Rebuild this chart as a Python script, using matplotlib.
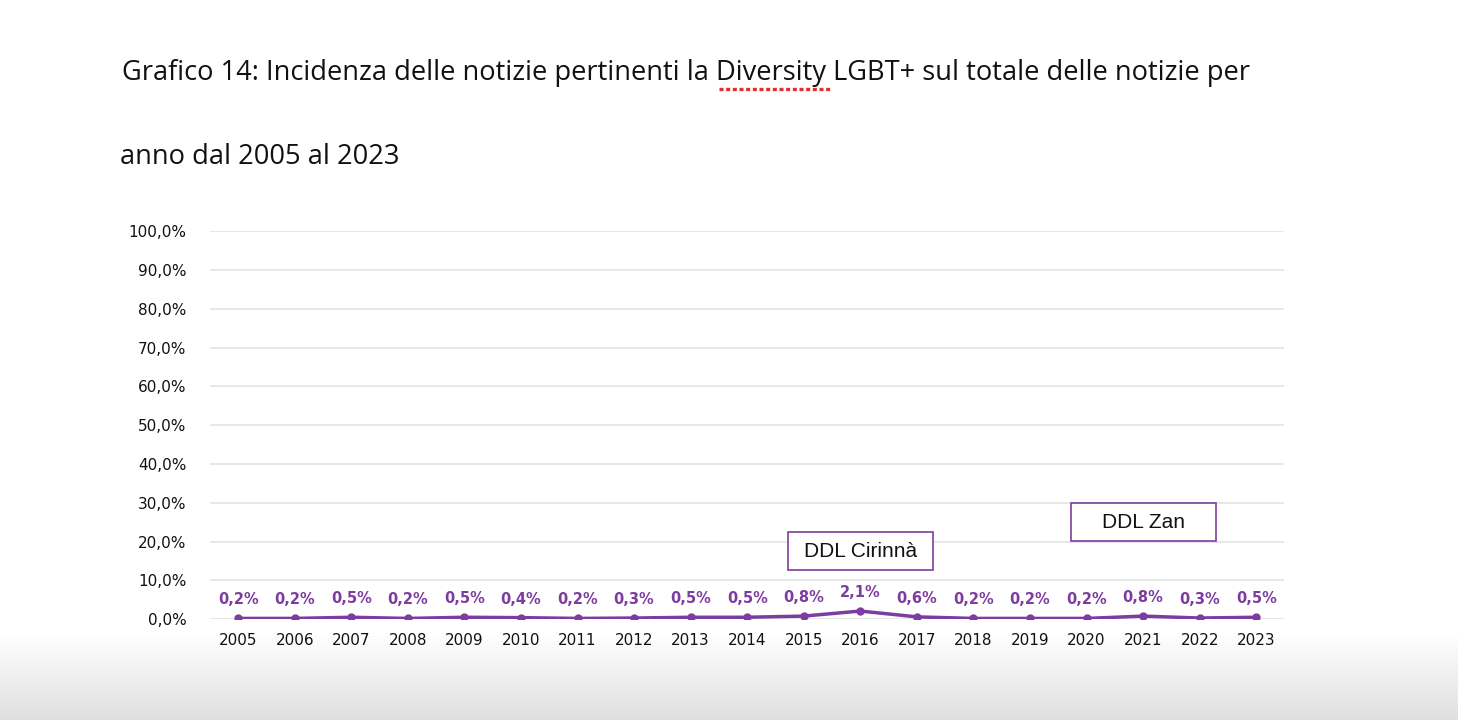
import numpy as np
import matplotlib.pyplot as plt
from matplotlib.patches import Rectangle
from matplotlib.lines import Line2D

years = [str(y) for y in range(2005, 2024)]
incidenza = [0.2, 0.2, 0.5, 0.2, 0.5, 0.4, 0.2, 0.3, 0.5, 0.5,
             0.8, 2.1, 0.6, 0.2, 0.2, 0.2, 0.8, 0.3, 0.5]
y_ticks = list(range(0, 101, 10))
eventi = ["DDL Cirinnà", "DDL Zan"]
eventi_anno = ["2016", "2021"]
eventi_y = [17.5, 25.0]

viola = "#7d3ca0"
titolo_font = dict(fontsize=19.6, family="Open Sans", color="#111111", va="center")

fig = plt.figure(figsize=(14.58, 7.2), dpi=100)

# soft grey shadow at the bottom of the page screenshot
bg = fig.add_axes([0, 0, 1, 0.12], zorder=-5)
shade = np.linspace(1.0, 0.905, 100) ** 1.3
img = np.dstack([shade, shade, shade]).reshape(-1, 1, 3)
bg.imshow(img, aspect="auto", extent=[0, 1, 0, 1], origin="upper")
bg.axis("off")

pre = "Grafico 14: Incidenza delle notizie pertinenti la "
fig.text(0.084, 0.898, pre + "Diversity LGBT+ sul totale delle notizie per", **titolo_font)
fig.text(0.082, 0.782, "anno dal 2005 al 2023", **titolo_font)

# red spell-check underline below "Diversity"
r = fig.canvas.get_renderer()
tmp = fig.text(0.084, 0.898, pre, **titolo_font)
w_pre = tmp.get_window_extent(r).width
tmp.set_text(pre + "Diversity")
w_div = tmp.get_window_extent(r).width
tmp.remove()
x0 = 0.084 + (w_pre + 3) / fig.bbox.width
x1 = 0.084 + (w_div + 4) / fig.bbox.width
fig.add_artist(Line2D([x0, x1], [0.877, 0.877], transform=fig.transFigure,
                      color="#e03030", lw=2.4, ls=(0, (1.2, 0.8))))

ax = fig.add_axes([0.144, 0.140, 0.737, 0.539])
x = np.arange(len(years))
ax.plot(x, incidenza, color=viola, lw=2.5, marker="o", ms=5, zorder=3)

for xi, v in zip(x, incidenza):
    ax.annotate(f"{v:.1f}%".replace(".", ","), (xi, v), xytext=(0, 8),
                textcoords="offset points", ha="center", va="bottom",
                color=viola, fontsize=10.5, fontweight="bold")

for nome, anno, yv in zip(eventi, eventi_anno, eventi_y):
    xc = years.index(anno)
    ax.add_patch(Rectangle((xc - 1.28, yv - 4.9), 2.56, 9.8, facecolor="white",
                           edgecolor=viola, lw=1.2, zorder=4))
    ax.text(xc, yv, nome, ha="center", va="center", fontsize=15,
            family="Liberation Sans", color="#111111", zorder=5)

ax.set_xlim(-0.5, len(years) - 0.5)
ax.set_ylim(0, 100)
ax.set_xticks(x)
ax.set_xticklabels(years)
ax.set_yticks(y_ticks)
ax.set_yticklabels([f"{t:.1f}%".replace(".", ",") for t in y_ticks])
ax.tick_params(length=0, labelsize=11, labelcolor="#111111")
ax.tick_params(axis="x", pad=10)
ax.tick_params(axis="y", pad=17)
ax.grid(axis="y", color="#e3e3e3", lw=1.2)
ax.set_axisbelow(True)
for s in ax.spines.values():
    s.set_visible(False)

fig.savefig("out.png", dpi=100)
